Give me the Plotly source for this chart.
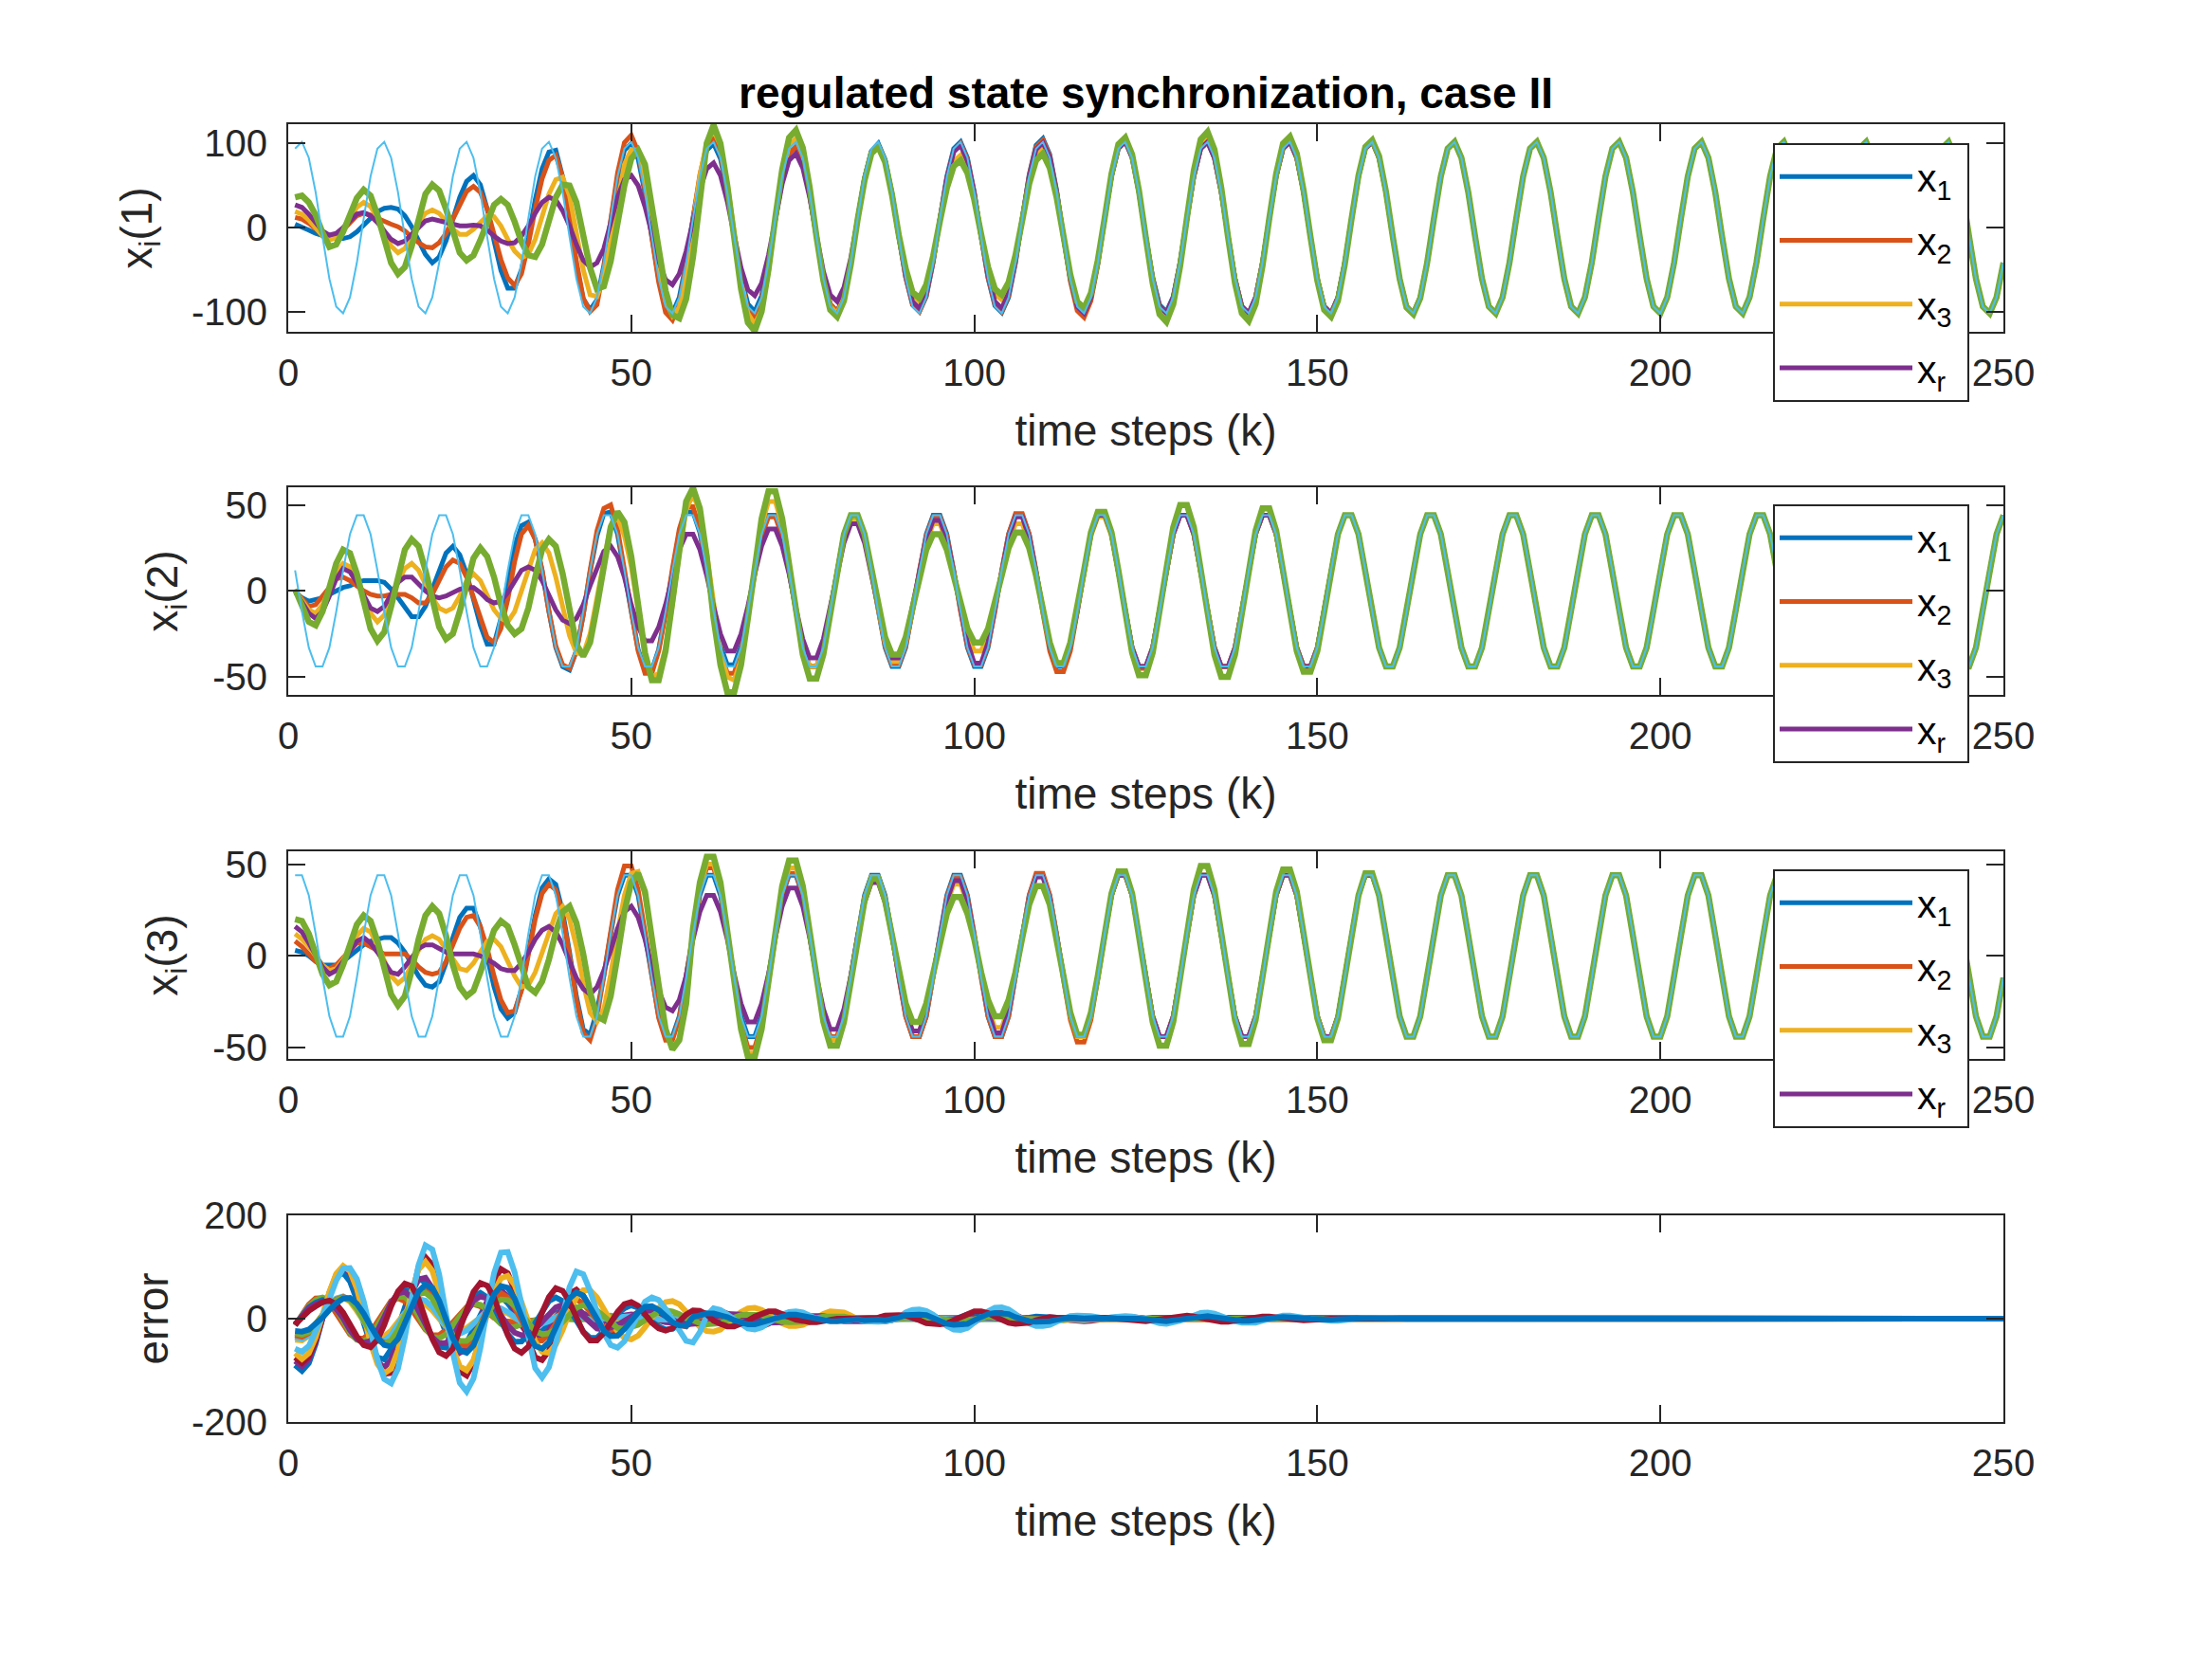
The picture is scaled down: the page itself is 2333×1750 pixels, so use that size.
import plotly.graph_objects as go

# ---------------- data ----------------
k = list(range(1, 251))

x_ticks = [0, 50, 100, 150, 200, 250]
x_ticktext = ["0", "50", "100", "150", "200", "250"]
y1_ticks = [-100, 0, 100]
y1_ticktext = ["-100", "0", "100"]
y23_ticks = [-50, 0, 50]
y23_ticktext = ["-50", "0", "50"]
y4_ticks = [-200, 0, 200]
y4_ticktext = ["-200", "0", "200"]

legend_labels = ["x<sub>1</sub>", "x<sub>2</sub>", "x<sub>3</sub>", "x<sub>r</sub>"]

# reference trajectory (thin light-blue line), state 1
ref1 = [94, 102, 83, 42, -11, -61, -94, -102, -83, -42, 11,
        61, 94, 102, 83, 42, -11, -61, -94, -102, -83, -42, 11,
        61, 94, 102, 83, 42, -11, -61, -94, -102, -83, -42, 11,
        61, 94, 102, 83, 42, -11, -61, -94, -102, -83, -42, 11,
        61, 94, 102, 83, 42, -11, -61, -94, -102, -83, -42, 11,
        61, 94, 102, 83, 42, -11, -61, -94, -102, -83, -42, 11,
        61, 94, 102, 83, 42, -11, -61, -94, -102, -83, -42, 11,
        61, 94, 102, 83, 42, -11, -61, -94, -102, -83, -42, 11,
        61, 94, 102, 83, 42, -11, -61, -94, -102, -83, -42, 11,
        61, 94, 102, 83, 42, -11, -61, -94, -102, -83, -42, 11,
        61, 94, 102, 83, 42, -11, -61, -94, -102, -83, -42, 11,
        61, 94, 102, 83, 42, -11, -61, -94, -102, -83, -42, 11,
        61, 94, 102, 83, 42, -11, -61, -94, -102, -83, -42, 11,
        61, 94, 102, 83, 42, -11, -61, -94, -102, -83, -42, 11,
        61, 94, 102, 83, 42, -11, -61, -94, -102, -83, -42, 11,
        61, 94, 102, 83, 42, -11, -61, -94, -102, -83, -42, 11,
        61, 94, 102, 83, 42, -11, -61, -94, -102, -83, -42, 11,
        61, 94, 102, 83, 42, -11, -61, -94, -102, -83, -42, 11,
        61, 94, 102, 83, 42, -11, -61, -94, -102, -83, -42, 11,
        61, 94, 102, 83, 42, -11, -61, -94, -102, -83, -42, 11,
        61, 94, 102, 83, 42, -11, -61, -94, -102, -83, -42]

# reference trajectory, state 2
ref2 = [12, -12, -33, -44, -44, -33, -12, 12, 33, 44, 44,
        33, 12, -12, -33, -44, -44, -33, -12, 12, 33, 44, 44,
        33, 12, -12, -33, -44, -44, -33, -12, 12, 33, 44, 44,
        33, 12, -12, -33, -44, -44, -33, -12, 12, 33, 44, 44,
        33, 12, -12, -33, -44, -44, -33, -12, 12, 33, 44, 44,
        33, 12, -12, -33, -44, -44, -33, -12, 12, 33, 44, 44,
        33, 12, -12, -33, -44, -44, -33, -12, 12, 33, 44, 44,
        33, 12, -12, -33, -44, -44, -33, -12, 12, 33, 44, 44,
        33, 12, -12, -33, -44, -44, -33, -12, 12, 33, 44, 44,
        33, 12, -12, -33, -44, -44, -33, -12, 12, 33, 44, 44,
        33, 12, -12, -33, -44, -44, -33, -12, 12, 33, 44, 44,
        33, 12, -12, -33, -44, -44, -33, -12, 12, 33, 44, 44,
        33, 12, -12, -33, -44, -44, -33, -12, 12, 33, 44, 44,
        33, 12, -12, -33, -44, -44, -33, -12, 12, 33, 44, 44,
        33, 12, -12, -33, -44, -44, -33, -12, 12, 33, 44, 44,
        33, 12, -12, -33, -44, -44, -33, -12, 12, 33, 44, 44,
        33, 12, -12, -33, -44, -44, -33, -12, 12, 33, 44, 44,
        33, 12, -12, -33, -44, -44, -33, -12, 12, 33, 44, 44,
        33, 12, -12, -33, -44, -44, -33, -12, 12, 33, 44, 44,
        33, 12, -12, -33, -44, -44, -33, -12, 12, 33, 44, 44,
        33, 12, -12, -33, -44, -44, -33, -12, 12, 33, 44]

# reference trajectory, state 3
ref3 = [44, 44, 33, 12, -12, -33, -44, -44, -33, -12, 12,
        33, 44, 44, 33, 12, -12, -33, -44, -44, -33, -12, 12,
        33, 44, 44, 33, 12, -12, -33, -44, -44, -33, -12, 12,
        33, 44, 44, 33, 12, -12, -33, -44, -44, -33, -12, 12,
        33, 44, 44, 33, 12, -12, -33, -44, -44, -33, -12, 12,
        33, 44, 44, 33, 12, -12, -33, -44, -44, -33, -12, 12,
        33, 44, 44, 33, 12, -12, -33, -44, -44, -33, -12, 12,
        33, 44, 44, 33, 12, -12, -33, -44, -44, -33, -12, 12,
        33, 44, 44, 33, 12, -12, -33, -44, -44, -33, -12, 12,
        33, 44, 44, 33, 12, -12, -33, -44, -44, -33, -12, 12,
        33, 44, 44, 33, 12, -12, -33, -44, -44, -33, -12, 12,
        33, 44, 44, 33, 12, -12, -33, -44, -44, -33, -12, 12,
        33, 44, 44, 33, 12, -12, -33, -44, -44, -33, -12, 12,
        33, 44, 44, 33, 12, -12, -33, -44, -44, -33, -12, 12,
        33, 44, 44, 33, 12, -12, -33, -44, -44, -33, -12, 12,
        33, 44, 44, 33, 12, -12, -33, -44, -44, -33, -12, 12,
        33, 44, 44, 33, 12, -12, -33, -44, -44, -33, -12, 12,
        33, 44, 44, 33, 12, -12, -33, -44, -44, -33, -12, 12,
        33, 44, 44, 33, 12, -12, -33, -44, -44, -33, -12, 12,
        33, 44, 44, 33, 12, -12, -33, -44, -44, -33, -12, 12,
        33, 44, 44, 33, 12, -12, -33, -44, -44, -33, -12]

# agent trajectories before synchronisation (afterwards they coincide with the reference)
blue1 = [4, 1, -3, -7, -10, -12, -13, -13, -11, -5,
         3, 12, 19, 23, 24, 22, 14, 1, -16, -32,
         -42, -35, -16, 10, 36, 55, 62, 51, 22, -16,
         -51, -72, -72, -50, -12, 33, 70, 90, 92, 60,
         15, -45, -85, -98, -86, -45, 11, 59, 92, 100,
         82, 41, -11, -61, -94, -102, -83, -42, 11, 59,
         92, 100, 82, 41, -11, -59, -91, -100, -81, -41,
         10, 56, 88, 96, 78, 39, -11, -59, -91, -100,
         -81, -41, 11, 59, 91, 100, 81, 41, -11, -59,
         -92, -100, -82, -41, 11, 61, 94, 102, 83, 42,
         -11, -60, -93, -101, -83, -42, 11, 63, 98, 106,
         87, 44, -11, -61, -95, -103, -84, -42, 11, 61,
         95, 103, 84, 42, -11, -59, -92, -100, -82, -41]
orange1 = [12, 10, 5, -2, -8, -11, -9, -3, 6, 14,
           17, 15, 11, 7, 4, 1, -4, -11, -18, -23,
           -24, -18, -7, 10, 28, 43, 49, 42, 22, -8,
           -38, -60, -69, -55, -20, 22, 58, 80, 86, 60,
           15, -40, -84, -100, -92, -48, 12, 65, 101, 110,
           90, 45, -12, -65, -101, -110, -90, -45, 11, 63,
           98, 106, 87, 44, -11, -63, -98, -106, -87, -44,
           10, 56, 88, 96, 78, 39, -11, -59, -91, -100,
           -81, -41, 10, 58, 90, 98, 79, 40, -11, -59,
           -91, -100, -81, -41, 11, 59, 91, 100, 81, 41,
           -11, -59, -91, -100, -81, -41, 11, 62, 96, 104,
           85, 43, -11, -64, -99, -107, -87, -44, 11, 62,
           97, 105, 86, 43, -11, -61, -94, -102, -83, -42]
yellow1 = [19, 16, 9, 0, -10, -15, -12, -3, 10, 24,
           30, 25, 12, -5, -22, -30, -25, -10, 6, 17,
           21, 17, 8, -2, -8, -8, -2, 7, 14, 13,
           2, -14, -28, -36, -32, -14, 14, 40, 57, 60,
           38, -5, -50, -80, -82, -60, -15, 35, 75, 93,
           92, 60, 5, -45, -88, -105, -95, -55, 5, 62,
           102, 115, 98, 52, -5, -62, -102, -115, -98, -52,
           11, 63, 98, 106, 87, 44, -11, -61, -94, -102,
           -83, -42, 10, 57, 89, 97, 78, 39, -9, -52,
           -80, -88, -71, -36, 9, 51, 79, 86, 70, 35,
           -9, -51, -79, -86, -70, -35, 10, 56, 87, 95,
           77, 39, -11, -59, -91, -100, -81, -41, 11, 62,
           97, 105, 86, 43, -11, -62, -97, -105, -86, -43,
           11, 62, 97, 105, 86, 43, -11, -61, -95, -103,
           -84, -42]
purple1 = [27, 24, 16, 6, -4, -9, -7, 0, 9, 16,
           18, 14, 6, -4, -14, -19, -16, -8, 1, 8,
           10, 8, 5, 3, 2, 2, 3, 2, -3, -10,
           -16, -19, -18, -10, 2, 17, 30, 36, 33, 20,
           2, -20, -39, -47, -42, -25, 7, 36, 57, 62,
           50, 25, -7, -40, -62, -68, -55, -28, 8, 45,
           70, 77, 62, 31, -9, -48, -74, -81, -66, -33,
           9, 52, 80, 88, 71, 36, -9, -52, -80, -88,
           -71, -36, 10, 58, 90, 98, 79, 40, -10, -56,
           -88, -96, -78, -39, 10, 58, 90, 98, 79, 40,
           -10, -56, -88, -96, -78, -39, 11, 60, 93, 101,
           83, 42]
green1 = [36, 38, 30, 15, -6, -23, -20, -5, 15, 35,
          45, 38, 15, -15, -42, -55, -47, -22, 10, 40,
          51, 44, 22, -6, -30, -39, -33, -15, 8, 27,
          34, 27, 7, -17, -33, -35, -20, 8, 36, 51,
          50, 30, -8, -48, -73, -70, -40, 5, 50, 82,
          92, 75, 30, -25, -75, -104, -108, -85, -35, 35,
          100, 122, 100, 50, -13, -73, -113, -123, -100, -50,
          12, 69, 107, 116, 95, 48, -11, -63, -98, -106,
          -87, -44, 10, 56, 88, 96, 78, 39, -9, -49,
          -77, -84, -68, -34, 8, 47, 73, 80, 65, 33,
          -8, -47, -73, -80, -65, -33, 9, 52, 80, 88,
          71, 36, -10, -56, -88, -96, -78, -39, 11, 64,
          99, 107, 87, 44, -12, -66, -103, -112, -91, -46,
          12, 68, 105, 114, 93, 47, -12, -66, -102, -111,
          -91, -46, 11, 64, 100, 108, 88, 44, -11, -63,
          -98, -106, -87, -44, 11, 62, 96, 104, 85, 43,
          -11, -61, -95, -103, -84, -42]

blue2 = [-1, -4, -6, -5, -4, -2, 0, 2, 3, 5,
         6, 6, 6, 5, 1, -4, -10, -15, -15, -9,
         1, 12, 22, 26, 21, 10, -5, -20, -31, -31,
         -16, 6, 26, 38, 40, 30, 12, -12, -33, -44,
         -46, -35, -14, 11, 32, 45, 46, 33, 12, -12,
         -34, -46, -46, -34, -12, 12, 34, 46, 46, 34,
         12, -12, -32, -43, -43, -32, -12]
orange2 = [0, -5, -9, -8, -3, 3, 7, 8, 6, 3,
           0, -2, -3, -3, -2, -2, -2, -4, -7, -7,
           -2, 6, 14, 18, 16, 8, -4, -17, -27, -30,
           -22, -5, 17, 33, 38, 30, 12, -12, -32, -43,
           -45, -35, -14, 12, 35, 48, 50, 36, 13, -13,
           -35, -48, -48, -35, -13, 13, 36, 49, 49, 36,
           13, -13, -35, -48, -48, -35, -13, 12, 32, 43,
           43, 32, 12, -12, -33, -44, -44, -33, -12, 12,
           33, 44, 44, 33, 12, -12, -32, -43, -43, -32,
           -12, 12, 32, 43, 43, 32, 12, -12, -32, -43,
           -43, -32, -12, 12, 33, 45, 45, 33, 12, -13,
           -35, -47, -47, -35, -13, 12, 33, 45, 45, 33,
           12, -12, -33, -45, -45, -33, -12]
yellow2 = [0, -6, -11, -13, -8, 1, 11, 16, 14, 6,
           -4, -13, -18, -14, -5, 5, 13, 16, 12, 4,
           -4, -10, -12, -10, -3, 6, 10, 6, -3, -11,
           -16, -18, -12, 0, 14, 24, 28, 22, 8, -10,
           -26, -36, -37, -25, -4, 20, 38, 43, 32, 14,
           -12, -36, -50, -48, -33, -8, 22, 47, 56, 46,
           22, -8, -35, -50, -52, -40, -16, 14, 38, 52,
           52, 38, 14, -12, -33, -44, -44, -33, -12, 11,
           30, 42, 42, 30, 11, -11, -30, -41, -41, -30,
           -11, 10, 28, 39, 39, 28, 10, -9, -25, -35,
           -35, -25, -9, 10, 28, 39, 39, 28, 10, -11,
           -31, -43, -43, -31, -11, 12, 32, 43, 43, 32,
           12]
purple2 = [0, -6, -13, -16, -12, -3, 7, 13, 11, 5,
           -3, -10, -12, -9, -2, 5, 8, 8, 4, 0,
           -3, -4, -3, -1, 1, 2, 2, -1, -5, -7,
           -6, -1, 6, 12, 14, 12, 6, -3, -11, -17,
           -19, -16, -8, 3, 14, 23, 26, 20, 8, -8,
           -21, -29, -29, -21, -8, 9, 24, 33, 33, 24,
           9, -9, -25, -35, -35, -25, -9, 10, 26, 36,
           36, 26, 10, -10, -28, -39, -39, -28, -10, 10,
           28, 39, 39, 28, 10, -10, -28, -39, -39, -28,
           -10, 11, 30, 41, 41, 30, 11, -11, -30, -42,
           -42, -30, -11, 11, 31, 43, 43, 31, 11, -12,
           -32, -43, -43, -32, -12]
green2 = [1, -9, -18, -20, -12, 2, 16, 24, 22, 10,
          -7, -22, -29, -24, -9, 9, 24, 30, 26, 12,
          -6, -21, -28, -25, -12, 5, 19, 25, 20, 8,
          -8, -20, -25, -22, -10, 8, 24, 30, 26, 10,
          -12, -31, -38, -30, -9, 16, 37, 46, 40, 20,
          -8, -36, -52, -52, -35, -6, 27, 52, 60, 48,
          20, -16, -43, -59, -59, -43, -16, 16, 42, 58,
          58, 42, 16, -14, -37, -51, -51, -37, -14, 12,
          33, 44, 44, 33, 12, -10, -27, -37, -37, -27,
          -10, 9, 24, 33, 33, 24, 9, -8, -22, -30,
          -30, -22, -8, 9, 25, 34, 34, 25, 9, -11,
          -30, -42, -42, -30, -11, 12, 34, 46, 46, 34,
          12, -13, -36, -49, -49, -36, -13, 13, 37, 50,
          50, 37, 13, -13, -37, -50, -50, -37, -13, 13,
          35, 48, 48, 35, 13, -13, -35, -47, -47, -35,
          -13]

blue3 = [3, 2, 0, -3, -5, -5, -5, -3, 0, 3,
         6, 8, 9, 10, 10, 7, 2, -5, -11, -16,
         -17, -14, -4, 10, 21, 26, 26, 16, 0, -17,
         -29, -34, -31, -18, 2, 22, 37, 42, 39, 24,
         2, -22, -40, -43, -30, -11, 12, 33, 44, 44,
         33, 12, -12, -33, -44, -44, -33, -12]
orange3 = [8, 5, 1, -3, -6, -7, -5, -1, 3, 7,
           7, 5, 3, 1, 1, 1, 1, -2, -6, -9,
           -10, -9, -3, 6, 15, 21, 22, 16, 4, -11,
           -24, -31, -30, -19, 1, 20, 34, 39, 36, 22,
           0, -24, -42, -46, -34, -12, 13, 36, 49, 49,
           36, 13, -12, -34, -46, -46, -34, -12, 13, 35,
           48, 48, 35, 13, -13, -37, -50, -50, -37, -13,
           12, 33, 45, 45, 33, 12, -12, -33, -44, -44,
           -33, -12, 12, 32, 43, 43, 32, 12, -12, -33,
           -44, -44, -33, -12, 12, 32, 43, 43, 32, 12,
           -12, -33, -44, -44, -33, -12, 12, 33, 45, 45,
           33, 12, -13, -35, -47, -47, -35, -13, 12, 33,
           45, 45, 33, 12]
yellow3 = [12, 9, 5, 0, -5, -8, -7, -2, 4, 11,
           15, 13, 6, -3, -11, -15, -12, -5, 3, 9,
           11, 9, 4, -2, -7, -8, -4, 2, 8, 9,
           5, -3, -11, -17, -16, -9, 2, 14, 23, 27,
           20, 5, -15, -31, -36, -29, -10, 13, 33, 45,
           46, 33, 10, -17, -40, -50, -45, -27, 13, 37,
           50, 50, 37, 13, -14, -39, -53, -53, -39, -14,
           13, 35, 48, 48, 35, 13, -12, -34, -46, -46,
           -34, -12, 11, 31, 43, 43, 31, 11, -11, -30,
           -41, -41, -30, -11, 10, 28, 39, 39, 28, 10,
           -10, -28, -39, -39, -28, -10, 11, 31, 43, 43,
           31, 11, -12, -33, -44, -44, -33, -12]
purple3 = [16, 13, 7, 0, -6, -10, -8, -3, 3, 8,
           10, 7, 2, -4, -9, -10, -6, -1, 4, 6,
           6, 4, 2, 1, 1, 1, 1, 0, -2, -4,
           -7, -8, -8, -4, 2, 9, 14, 16, 13, 6,
           -3, -12, -18, -21, -17, -8, 3, 15, 24, 27,
           21, 9, -6, -19, -28, -30, -24, -11, 9, 24,
           33, 33, 24, 9, -10, -26, -36, -36, -26, -10,
           10, 27, 37, 37, 27, 10, -11, -29, -40, -40,
           -29, -11, 11, 29, 40, 40, 29, 11, -11, -30,
           -41, -41, -30, -11, 11, 30, 41, 41, 30, 11,
           -11, -30, -42, -42, -30, -11, 11, 31, 43, 43,
           31, 11, -12, -32, -43, -43, -32, -12]
green3 = [20, 19, 12, 1, -10, -16, -14, -5, 7, 17,
          22, 19, 8, -7, -21, -27, -22, -8, 9, 22,
          27, 23, 11, -5, -17, -22, -19, -9, 4, 14,
          19, 16, 6, -7, -17, -20, -14, -2, 13, 24,
          27, 18, 1, -20, -33, -35, -22, 0, 24, 40,
          45, 35, 12, -16, -40, -51, -46, -26, 15, 40,
          54, 54, 40, 15, -15, -40, -55, -55, -40, -15,
          14, 38, 52, 52, 38, 14, -13, -36, -49, -49,
          -36, -13, 11, 30, 42, 42, 30, 11, -10, -26,
          -36, -36, -26, -10, 9, 23, 32, 32, 23, 9,
          -9, -24, -33, -33, -24, -9, 10, 28, 38, 38,
          28, 10, -11, -31, -43, -43, -31, -11, 12, 34,
          46, 46, 34, 12, -13, -36, -49, -49, -36, -13,
          13, 36, 49, 49, 36, 13, -13, -35, -48, -48,
          -35, -13, 13, 35, 47, 47, 35, 13, -12, -34,
          -46, -46, -34, -12, 12, 33, 45, 45, 33, 12]

# ---------------- build series ----------------
def synced(head, ref):
    # after synchronisation the agent coincides with the reference
    return head + ref[len(head):]

refs = [ref1, ref2, ref3]
agents = [
    [synced(blue1, ref1), synced(orange1, ref1), synced(yellow1, ref1), synced(purple1, ref1), synced(green1, ref1)],
    [synced(blue2, ref2), synced(orange2, ref2), synced(yellow2, ref2), synced(purple2, ref2), synced(green2, ref2)],
    [synced(blue3, ref3), synced(orange3, ref3), synced(yellow3, ref3), synced(purple3, ref3), synced(green3, ref3)],
]

COLORS = ['#0072BD', '#D95319', '#EDB120', '#7E2F8E', '#77AC30', '#4DBEEE', '#A2142F']
FONT = "Liberation Sans, Arial, Helvetica, sans-serif"
INK = '#262626'
PAD = "\u00a0"

fig = go.Figure()

legend_names = ['legend', 'legend2', 'legend3']
for p in range(3):
    xa = 'x' if p == 0 else 'x%d' % (p + 1)
    ya = 'y' if p == 0 else 'y%d' % (p + 1)
    for a in range(5):
        fig.add_trace(go.Scatter(
            x=k, y=agents[p][a], mode='lines', xaxis=xa, yaxis=ya,
            line=dict(color=COLORS[a], width=6.5 if a == 4 else 5),
            name=(legend_labels[a] + PAD) if a < 4 else 'x5',
            showlegend=(a < 4), legend=legend_names[p],
            legendgroup='p%d_%d' % (p, a)))
    fig.add_trace(go.Scatter(
        x=k, y=refs[p], mode='lines', xaxis=xa, yaxis=ya,
        line=dict(color=COLORS[5], width=2), showlegend=False, name='r'))

# error panel: agent minus reference, agent-major ordering, colours cycling
idx = 0
for a in range(5):
    for p in range(3):
        err = [v - r for v, r in zip(agents[p][a], refs[p])]
        fig.add_trace(go.Scatter(
            x=k, y=err, mode='lines', xaxis='x4', yaxis='y4',
            line=dict(color=COLORS[idx % 7], width=6), showlegend=False,
            name='e%d' % (idx + 1)))
        idx += 1

W, H = 2333, 1750
OFF = 8  # page body margin of the browser
XL, XR = 304 - OFF, 2113 - OFF
panels = [(131 - OFF, 350 - OFF), (514 - OFF, 733 - OFF), (898 - OFF, 1117 - OFF), (1282 - OFF, 1500 - OFF)]
yranges = [[-124, 123], [-60.5, 60.3], [-56.2, 57], [-200, 200]]
ytv = [(y1_ticks, y1_ticktext), (y23_ticks, y23_ticktext), (y23_ticks, y23_ticktext), (y4_ticks, y4_ticktext)]
ytitles = ["x<sub>i</sub>(1)", "x<sub>i</sub>(2)", "x<sub>i</sub>(3)", "error"]
ystand = [27, 22, 22, 10]

layout = dict(
    width=W, height=H, template='none',
    paper_bgcolor='white', plot_bgcolor='white',
    margin=dict(l=0, r=0, t=0, b=0),
    font=dict(family=FONT, color=INK),
    showlegend=True,
    title=dict(text="<b>regulated state synchronization, case II</b>",
               x=(XL + XR) / 2 / W, xanchor='center', y=1 - (98 - OFF) / H, yanchor='middle',
               font=dict(size=46, color='black', family=FONT)),
)

for i, (top, bot) in enumerate(panels):
    sx = '' if i == 0 else str(i + 1)
    layout['xaxis' + sx] = dict(
        domain=[XL / W, XR / W], anchor='y' + sx, range=[0, 250],
        tickvals=x_ticks, ticktext=x_ticktext, ticks='inside', ticklen=18, tickwidth=2,
        tickcolor=INK, showline=True, linewidth=2, linecolor=INK, mirror='ticks',
        showgrid=False, zeroline=False, tickfont=dict(size=40, color=INK, family=FONT),
        ticklabelstandoff=7,
        title=dict(text='time steps (k)', font=dict(size=46, color=INK, family=FONT), standoff=24),
        automargin=False)
    layout['yaxis' + sx] = dict(
        domain=[1 - bot / H, 1 - top / H], anchor='x' + sx, range=yranges[i],
        tickvals=ytv[i][0], ticktext=ytv[i][1], ticks='inside', ticklen=18, tickwidth=2,
        tickcolor=INK, showline=True, linewidth=2, linecolor=INK, mirror='ticks',
        showgrid=False, zeroline=False, tickfont=dict(size=40, color=INK, family=FONT),
        ticklabelstandoff=12,
        title=dict(text=ytitles[i], font=dict(size=46, color=INK, family=FONT), standoff=ystand[i]),
        automargin=False)

legend_tops = [151 - OFF, 532 - OFF, 917 - OFF]
for i, lt in enumerate(legend_tops):
    layout[legend_names[i]] = dict(
        x=(1870 - OFF) / W, y=1 - lt / H, xanchor='left', yanchor='top',
        bgcolor='white', bordercolor=INK, borderwidth=2,
        font=dict(size=41, color='black', family=FONT),
        tracegroupgap=11, itemwidth=140, traceorder='grouped')

fig.update_layout(**layout)
fig.write_html("out.html")
